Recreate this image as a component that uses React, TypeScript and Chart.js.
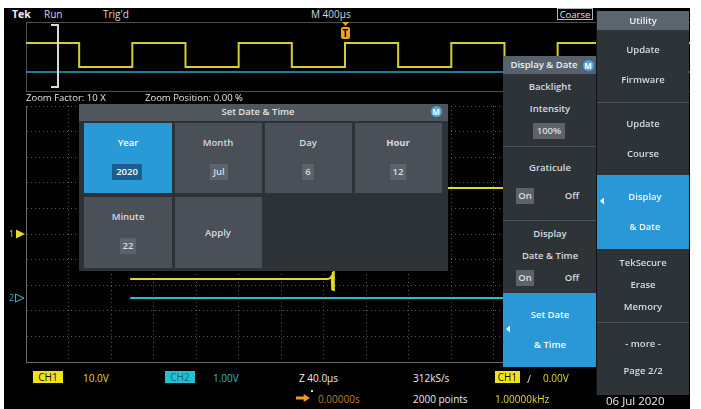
import React, { useEffect, useRef } from "react";
import { Chart, registerables } from "chart.js";

Chart.register(...registerables);

// ---------- Overview record (M 400µs/div) ----------
const overviewTimes = [-3000, -2500, -2000, -1500, -1000, -500, 0, 500, 1000, 1500, 2000, 2500, 3000, 3245];
const overviewCh1 = [1.4, -1.0, 1.4, -1.0, 1.4, -1.0, 1.4, -1.0, 1.4, -1.0, 1.4, -1.0, 1.4, 1.4];
const overviewCh2Times = [-3000, 3245];
const overviewCh2 = [-1.5, -1.5];

// ---------- Zoom window (Z 40.0µs/div) ----------
const ch1Times = [-202, -16, -14, -12.5, -12, -11.5, -11, -10.5, -10, 200];
const ch1Volts = [-17.6, -17.6, -17.2, -16.4, -21.5, -14.8, -21.9, -15.0, 18.0, 18.0];
const ch2Times = [-202, 200];
const ch2Volts = [0, 0];
const ch1VoltsPerDiv = 10;
const ch1Position = 0;
const ch2VoltsPerDiv = 1;
const ch2Position = -2.5;

const xTicks = [-300, -260, -220, -180, -140, -100, -60, -20, 20, 60, 100, 140, 180, 220, 260, 300];
const yTicks = [-5, -4, -3, -2, -1, 0, 1, 2, 3, 4, 5];

const YELLOW = "#e2da24";
const CYAN = "#26bfd0";
const FONT = "'Open Sans', 'Noto Sans', sans-serif";

const markerPlugin = {
  id: "channelMarkers",
  afterDatasetsDraw(chart: any) {
    const ctx = chart.ctx;
    const ys = chart.scales.y;
    const left = chart.chartArea.left;
    ctx.save();
    const y1 = ys.getPixelForValue(ch1Position);
    ctx.fillStyle = YELLOW;
    ctx.beginPath();
    ctx.moveTo(left - 10, y1 - 4.5);
    ctx.lineTo(left - 1, y1);
    ctx.lineTo(left - 10, y1 + 4.5);
    ctx.closePath();
    ctx.fill();
    ctx.font = "9px " + FONT;
    ctx.textBaseline = "middle";
    ctx.fillText("1", left - 17, y1);
    const y2 = ys.getPixelForValue(ch2Position);
    ctx.strokeStyle = CYAN;
    ctx.fillStyle = CYAN;
    ctx.lineWidth = 1;
    ctx.beginPath();
    ctx.moveTo(left - 10.5, y2 - 4);
    ctx.lineTo(left - 2, y2);
    ctx.lineTo(left - 10.5, y2 + 4);
    ctx.closePath();
    ctx.stroke();
    ctx.fillText("2", left - 17, y2);
    ctx.restore();
  },
};

function Txt(props: any) {
  const { x, y, children, color = "#e4e4e4", size = 10, weight = 400, center = false, style = {} } = props;
  return (
    <div
      style={{
        position: "absolute",
        left: x,
        top: y,
        transform: center ? "translate(-50%,-50%)" : "translateY(-50%)",
        color,
        fontSize: size,
        fontWeight: weight,
        fontFamily: FONT,
        lineHeight: 1,
        whiteSpace: "nowrap",
        ...style,
      }}
    >
      {children}
    </div>
  );
}

function Box(props: any) {
  const { x, y, w, h, bg, style = {}, children } = props;
  return (
    <div style={{ position: "absolute", left: x, top: y, width: w, height: h, background: bg, ...style }}>{children}</div>
  );
}

function ValueBox(props: any) {
  const { cx, cy, w, text, bg = "#5c636a", color = "#d8dde2" } = props;
  return (
    <Box x={cx - w / 2} y={cy - 8} w={w} h={16} bg={bg}>
      <Txt x={w / 2} y={8} center color={color} size={9.5} weight={600}>
        {text}
      </Txt>
    </Box>
  );
}

function MBadge(props: any) {
  const { cx, cy } = props;
  return (
    <div
      style={{
        position: "absolute",
        left: cx - 5.5,
        top: cy - 5.5,
        width: 11,
        height: 11,
        borderRadius: 6,
        background: "#4aa6dc",
        color: "#fff",
        fontFamily: FONT,
        fontSize: 8,
        fontWeight: 700,
        lineHeight: "11px",
        textAlign: "center",
      }}
    >
      M
    </div>
  );
}

function LeftTri(props: any) {
  const { x, y } = props;
  return (
    <div
      style={{
        position: "absolute",
        left: x,
        top: y - 3.5,
        width: 4,
        height: 7,
        background: "#ffffff",
        clipPath: "polygon(100% 0, 0 50%, 100% 100%)",
      }}
    />
  );
}

export default function App() {
  const ovRef = useRef<HTMLCanvasElement | null>(null);
  const mainRef = useRef<HTMLCanvasElement | null>(null);

  useEffect(() => {
    const ov = new Chart(ovRef.current as HTMLCanvasElement, {
      type: "line",
      data: {
        datasets: [
          {
            data: overviewTimes.map((t, i) => ({ x: t, y: overviewCh1[i] })),
            borderColor: "#d6ce2e",
            borderWidth: 2,
            pointRadius: 0,
            stepped: true,
          },
          {
            data: overviewCh2Times.map((t, i) => ({ x: t, y: overviewCh2[i] })),
            borderColor: "#2aa4c4",
            borderWidth: 1.5,
            pointRadius: 0,
          },
        ],
      } as any,
      options: {
        animation: false,
        responsive: false,
        events: [],
        layout: { padding: 0 },
        plugins: { legend: { display: false }, tooltip: { enabled: false } },
        scales: {
          x: { type: "linear", display: false, min: -3000, max: 3245 },
          y: { type: "linear", display: false, min: -3.5, max: 3.5 },
        },
      } as any,
    });

    const main = new Chart(mainRef.current as HTMLCanvasElement, {
      type: "line",
      data: {
        datasets: [
          {
            data: ch2Times.map((t, i) => ({ x: t, y: ch2Volts[i] / ch2VoltsPerDiv + ch2Position })),
            borderColor: CYAN,
            borderWidth: 2,
            pointRadius: 0,
          },
          {
            data: ch1Times.map((t, i) => ({ x: t, y: ch1Volts[i] / ch1VoltsPerDiv + ch1Position })),
            borderColor: YELLOW,
            borderWidth: 2,
            pointRadius: 0,
          },
        ],
      } as any,
      options: {
        animation: false,
        responsive: false,
        events: [],
        layout: { padding: { left: 22, top: 6, right: 26, bottom: 4 } },
        plugins: { legend: { display: false }, tooltip: { enabled: false } },
        scales: {
          x: {
            type: "linear",
            min: -300,
            max: 300,
            afterBuildTicks: (s: any) => {
              s.ticks = xTicks.map((v) => ({ value: v }));
            },
            ticks: { display: false },
            grid: { color: "rgba(120,120,120,0.7)", drawTicks: false, lineWidth: 1 },
            border: { display: true, color: "#6a6a6a", dash: [1, 3] },
          },
          y: {
            type: "linear",
            min: -5,
            max: 5,
            afterBuildTicks: (s: any) => {
              s.ticks = yTicks.map((v) => ({ value: v }));
            },
            ticks: { display: false },
            grid: { color: "rgba(120,120,120,0.7)", drawTicks: false, lineWidth: 1 },
            border: { display: true, color: "#6a6a6a", dash: [1, 3] },
          },
        },
      } as any,
      plugins: [markerPlugin],
    });

    return () => {
      ov.destroy();
      main.destroy();
    };
  }, []);

  const menuText = "#d6dbe0";
  const W = 600;

  return (
    <div
      style={{
        position: "fixed",
        left: 0,
        top: 0,
        width: 701,
        height: 409,
        background: "#ffffff",
        overflow: "hidden",
        fontFamily: FONT,
      }}
    >
      <Box x={4} y={8} w={686} h={401} bg="#000" />

      {/* header */}
      <Txt x={12} y={14} size={10.5} weight={700} color="#f0f0f0">Tek</Txt>
      <Txt x={44} y={14} size={10} color="#d8d8d8">Run</Txt>
      <Txt x={103} y={14} size={10} color="#d8d8d8">Trig'd</Txt>
      <Txt x={311} y={14} size={10} color="#d8d8d8">M 400µs</Txt>
      <div
        style={{
          position: "absolute",
          left: 557,
          top: 8,
          width: 36,
          height: 12,
          border: "1px solid #b8b8b8",
          boxSizing: "border-box",
        }}
      >
        <Txt x={17} y={5.5} center size={9.5}>Coarse</Txt>
      </div>

      {/* overview frame */}
      <Box x={26} y={22} w={664} h={1} bg="#4d4d4d" />
      <Box x={26} y={91} w={664} h={1} bg="#4d4d4d" />
      <Box x={26} y={22} w={1} h={70} bg="#4d4d4d" />
      <canvas
        ref={ovRef}
        width={664}
        height={70}
        style={{ position: "absolute", left: 26, top: 22, width: 664, height: 70 }}
      />
      {/* zoom bracket */}
      <div
        style={{
          position: "absolute",
          left: 51,
          top: 24,
          width: 8,
          height: 64,
          borderTop: "2px solid #d8d8d8",
          borderRight: "2px solid #d8d8d8",
          borderBottom: "2px solid #d8d8d8",
          boxSizing: "border-box",
        }}
      />
      {/* trigger position marker */}
      <div
        style={{
          position: "absolute",
          left: 342,
          top: 22,
          width: 7,
          height: 4,
          background: "#f2a21c",
          clipPath: "polygon(0 0, 100% 0, 50% 100%)",
        }}
      />
      <div
        style={{
          position: "absolute",
          left: 341,
          top: 27,
          width: 9,
          height: 12,
          background: "#f2a21c",
          borderRadius: 2,
          color: "#000",
          fontFamily: FONT,
          fontSize: 10,
          fontWeight: 700,
          lineHeight: "12px",
          textAlign: "center",
        }}
      >
        T
      </div>

      <Txt x={26} y={98} size={9.5}>Zoom Factor: 10 X</Txt>
      <Txt x={145} y={98} size={9.5}>Zoom Position: 0.00 %</Txt>

      {/* main graticule */}
      <canvas
        ref={mainRef}
        width={686}
        height={266}
        style={{ position: "absolute", left: 4, top: 100, width: 686, height: 266 }}
      />

      {/* Set Date & Time dialog */}
      <Box x={79} y={104} w={369} h={167} bg="#2d3237" />
      <Box x={79} y={104} w={369} h={17} bg="#4f565d" />
      <Txt x={258} y={112} center size={9.5} weight={W}>Set Date &amp; Time</Txt>
      <MBadge cx={436} cy={111} />
      {/* row 1 */}
      <Box x={84} y={123} w={88} h={70} bg="#2a9ad6" />
      <Txt x={128} y={143} center size={9.5} weight={W} color="#ffffff">Year</Txt>
      <ValueBox cx={127} cy={172} w={30} text="2020" bg="#1b5f8e" color="#ffffff" />
      <Box x={175} y={123} w={87} h={70} bg="#4a5057" />
      <Txt x={218} y={143} center size={9.5} weight={W} color={menuText}>Month</Txt>
      <ValueBox cx={219} cy={172} w={18} text="Jul" />
      <Box x={265} y={123} w={87} h={70} bg="#4a5057" />
      <Txt x={308} y={143} center size={9.5} weight={W} color={menuText}>Day</Txt>
      <ValueBox cx={308} cy={172} w={12} text="6" />
      <Box x={355} y={123} w={87} h={70} bg="#4a5057" />
      <Txt x={398} y={143} center size={9.5} weight={700} color={menuText}>Hour</Txt>
      <ValueBox cx={398} cy={172} w={16} text="12" />
      {/* row 2 */}
      <Box x={84} y={197} w={88} h={71} bg="#4a5057" />
      <Txt x={128} y={217} center size={9.5} weight={W} color={menuText}>Minute</Txt>
      <ValueBox cx={128} cy={246} w={16} text="22" />
      <Box x={175} y={197} w={87} h={71} bg="#4a5057" />
      <Txt x={218} y={233} center size={9.5} weight={W} color={menuText}>Apply</Txt>

      {/* Display & Date menu */}
      <Box x={503} y={56} w={94} h={311} bg="#2e3337" />
      <Box x={503} y={56} w={94} h={18} bg="#58626c" />
      <Txt x={544} y={65} center size={9.5} weight={W} color="#eef0f2">Display &amp; Date</Txt>
      <MBadge cx={588} cy={65} />
      <Txt x={550} y={87} center size={9.5} weight={W} color={menuText}>Backlight</Txt>
      <Txt x={550} y={109} center size={9.5} weight={W} color={menuText}>Intensity</Txt>
      <ValueBox cx={549} cy={131} w={32} text="100%" />
      <Box x={503} y={146} w={94} h={1} bg="#4c5258" />
      <Txt x={550} y={168} center size={9.5} weight={W} color={menuText}>Graticule</Txt>
      <ValueBox cx={525} cy={196} w={18} text="On" />
      <Txt x={572} y={196} center size={9.5} weight={W} color={menuText}>Off</Txt>
      <Box x={503} y={220} w={94} h={1} bg="#4c5258" />
      <Txt x={550} y={234} center size={9.5} weight={W} color={menuText}>Display</Txt>
      <Txt x={550} y={256} center size={9.5} weight={W} color={menuText}>Date &amp; Time</Txt>
      <ValueBox cx={525} cy={278} w={18} text="On" />
      <Txt x={572} y={278} center size={9.5} weight={W} color={menuText}>Off</Txt>
      <Box x={503} y={293} w={94} h={74} bg="#2a98d6" />
      <Txt x={550} y={315} center size={9.5} weight={W} color="#f4f8fb">Set Date</Txt>
      <Txt x={550} y={345} center size={9.5} weight={W} color="#f4f8fb">&amp; Time</Txt>
      <LeftTri x={506} y={329} />

      {/* Utility menu */}
      <Box x={597} y={11} w={92} h={384} bg="#2e3337" />
      <Box x={596} y={11} w={1} h={384} bg="#101214" />
      <Box x={597} y={11} w={92} h={19} bg="#5a6570" />
      <Txt x={643} y={21} center size={9.5} weight={W} color="#eef0f2">Utility</Txt>
      <Txt x={643} y={50} center size={9.5} weight={W} color={menuText}>Update</Txt>
      <Txt x={643} y={80} center size={9.5} weight={W} color={menuText}>Firmware</Txt>
      <Box x={597} y={102} w={92} h={1} bg="#4c5258" />
      <Txt x={643} y={124} center size={9.5} weight={W} color={menuText}>Update</Txt>
      <Txt x={643} y={154} center size={9.5} weight={W} color={menuText}>Course</Txt>
      <Box x={597} y={175} w={92} h={74} bg="#2a98d6" />
      <Txt x={645} y={197} center size={9.5} weight={W} color="#f4f8fb">Display</Txt>
      <Txt x={645} y={227} center size={9.5} weight={W} color="#f4f8fb">&amp; Date</Txt>
      <LeftTri x={600} y={201} />
      <Txt x={643} y={263} center size={9.5} weight={W} color={menuText}>TekSecure</Txt>
      <Txt x={643} y={285} center size={9.5} weight={W} color={menuText}>Erase</Txt>
      <Txt x={643} y={307} center size={9.5} weight={W} color={menuText}>Memory</Txt>
      <Box x={597} y={322} w={92} h={1} bg="#4c5258" />
      <Txt x={643} y={344} center size={9.5} weight={W} color={menuText}>- more -</Txt>
      <Txt x={643} y={371} center size={9.5} weight={W} color={menuText}>Page 2/2</Txt>

      {/* bottom status bar */}
      <Box x={33} y={371} w={30} h={12} bg="#f0e312">
        <Txt x={15} y={6} center size={10} color="#111">CH1</Txt>
      </Box>
      <Txt x={83} y={378} size={10} color="#e6dc22">10.0V</Txt>
      <Box x={165} y={371} w={30} h={12} bg="#25c0d2">
        <Txt x={15} y={6} center size={10} color="#0d6f7c">CH2</Txt>
      </Box>
      <Txt x={213} y={378} size={10} color={CYAN}>1.00V</Txt>
      <Txt x={299} y={378} size={10} color="#ececec">Z 40.0µs</Txt>
      <div
        style={{
          position: "absolute",
          left: 296,
          top: 394,
          width: 14,
          height: 8,
          background: "#f0962a",
          clipPath: "polygon(0 30%, 55% 30%, 55% 0, 100% 50%, 55% 100%, 55% 70%, 0 70%)",
        }}
      />
      <Box x={311} y={390} w={2} h={2} bg="#d8d8d8" />
      <Txt x={318} y={399} size={10} color="#c47a22">0.00000s</Txt>
      <Txt x={413} y={378} size={10} color="#ececec">312kS/s</Txt>
      <Txt x={413} y={399} size={10} color="#ececec">2000 points</Txt>
      <Box x={495} y={371} w={25} h={12} bg="#f0e312">
        <Txt x={12.5} y={6} center size={10} color="#111">CH1</Txt>
      </Box>
      <Txt x={527} y={378} size={11} color="#d8d8d8">/</Txt>
      <Txt x={543} y={378} size={10} color="#e6dc22">0.00V</Txt>
      <Txt x={495} y={399} size={10} color="#e6dc22">1.00000kHz</Txt>
      <Txt x={606} y={401} size={11.5} color="#ececec">06 Jul 2020</Txt>
    </div>
  );
}
